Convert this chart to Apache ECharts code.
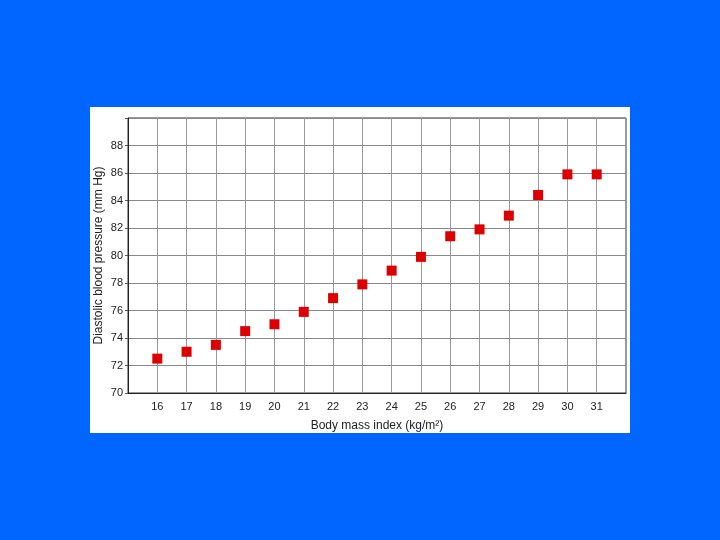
<!DOCTYPE html>
<html><head><meta charset="utf-8">
<script src="https://cdn.jsdelivr.net/npm/echarts@6/dist/echarts.min.js"></script>
<style>html,body{margin:0;padding:0;background:#0066ff;}#c{width:720px;height:540px;}</style>
</head><body><div id="c"></div>
<script>
const bmi = [16,17,18,19,20,21,22,23,24,25,26,27,28,29,30,31];
const dbp = [72.5,73,73.5,74.5,75,75.9,76.9,77.9,78.9,79.9,81.4,81.9,82.9,84.4,85.9,85.9];
const xTitle = 'Body mass index (kg/m²)';
const yTitle = 'Diastolic blood pressure (mm Hg)';
const chart = echarts.init(document.getElementById('c'));
const font = 'Liberation Sans, Arial, sans-serif';
chart.setOption({
  backgroundColor: '#0066ff',
  animation: false,
  graphic: [{type:'rect', shape:{x:90,y:107,width:540,height:326}, style:{fill:'#ffffff'}, z:-10}],
  grid: {left:128, right:94, top:118, bottom:147, show:true, borderColor:'#333', borderWidth:1, backgroundColor:'#fff'},
  xAxis: {
    type:'value', min:15, max:32, interval:1,
    name: xTitle, nameLocation:'middle', nameGap:27,
    nameTextStyle:{fontFamily:font, fontSize:12, color:'#222'},
    axisLine:{show:true, lineStyle:{color:'#222'}},
    axisTick:{show:false},
    axisLabel:{fontFamily:font, fontSize:11, color:'#222', margin:8,
      formatter:v => (v>=16 && v<=31) ? String(v) : ''},
    splitLine:{show:true, lineStyle:{color:'#999', width:1}}
  },
  yAxis: {
    type:'value', min:70, max:90, interval:2,
    name: yTitle, nameLocation:'middle', nameGap:23, nameMoveOverlap:false,
    nameTextStyle:{fontFamily:font, fontSize:12, color:'#222'},
    axisLine:{show:true, lineStyle:{color:'#222'}},
    axisTick:{show:true, length:3, lineStyle:{color:'#555'}},
    axisLabel:{fontFamily:font, fontSize:11, color:'#222', margin:5,
      formatter:v => v<=88 ? String(v) : ''},
    splitLine:{show:true, lineStyle:{color:'#888', width:1}}
  },
  series: [{
    type:'scatter', symbol:'rect', symbolSize:10,
    itemStyle:{color:'#dd0000', opacity:1},
    data: bmi.map((x,i)=>[x, dbp[i]])
  }]
});
</script></body></html>
